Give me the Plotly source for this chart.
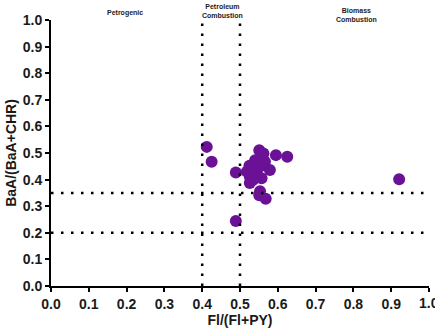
import plotly.graph_objects as go

fl_ratio = [0.412, 0.425, 0.489, 0.489, 0.551, 0.562, 0.595, 0.625, 0.540, 0.566,
            0.525, 0.553, 0.579, 0.518, 0.544, 0.526, 0.557, 0.535, 0.526, 0.553,
            0.551, 0.568, 0.921]
baa_ratio = [0.523, 0.467, 0.427, 0.244, 0.510, 0.498, 0.492, 0.486, 0.473, 0.467,
             0.452, 0.449, 0.436, 0.430, 0.424, 0.411, 0.405, 0.399, 0.387, 0.356,
             0.341, 0.328, 0.401]

x_thresholds = [0.4, 0.5]
y_thresholds = [0.35, 0.2]
tick_vals = [0.0, 0.1, 0.2, 0.3, 0.4, 0.5, 0.6, 0.7, 0.8, 0.9, 1.0]
tick_text = ["<b>%.1f</b>" % v for v in tick_vals]
region_labels = ["Petrogenic", "Petroleum<br>Combustion", "Biomass<br>Combustion"]
region_x = [0.196, 0.454, 0.807]
region_shift = [1, -1, -5]

FONT = "Liberation Sans, Arial, sans-serif"
TXT = "#1a1a1a"

fig = go.Figure()
fig.add_trace(go.Scatter(
    x=fl_ratio, y=baa_ratio, mode="markers",
    marker=dict(size=12, color="#6a1196", line=dict(width=0)),
    showlegend=False, cliponaxis=False,
))

for xv in x_thresholds:
    fig.add_shape(type="line", xref="x", yref="y", x0=xv, x1=xv, y0=0, y1=1,
                  line=dict(color="black", width=2.5, dash="2.5px,7.5px"))
for yv in y_thresholds:
    fig.add_shape(type="line", xref="x", yref="y", x0=0, x1=1, y0=yv, y1=yv,
                  line=dict(color="black", width=2.5, dash="2.5px,7.5px"))

for lab, xv, sh in zip(region_labels, region_x, region_shift):
    fig.add_annotation(x=xv, xref="x", y=1.0, yref="y", yshift=sh, text="<b>" + lab + "</b>",
                       showarrow=False, yanchor="bottom",
                       font=dict(family=FONT, size=7, color="#222"))

# last x tick label, partly cut by the page edge as in the original
fig.add_annotation(x=1.0, xref="x", y=0, yref="y", yshift=-7, text=tick_text[-1],
                   showarrow=False, yanchor="top", xanchor="center",
                   font=dict(family=FONT, size=14, color=TXT))

axis_common = dict(
    range=[0, 1], tickvals=tick_vals, ticktext=tick_text, showgrid=False, zeroline=False,
    showline=True, linecolor="black", linewidth=2, ticks="outside", ticklen=4,
    tickwidth=2, tickcolor="black",
    tickfont=dict(family=FONT, size=14, color=TXT),
)

fig.update_xaxes(**axis_common,
                 title=dict(text="<b>Fl/(Fl+PY)</b>", standoff=4,
                            font=dict(family=FONT, size=14, color=TXT)))
fig.update_yaxes(**axis_common,
                 title=dict(text="<b>BaA/(BaA+CHR)</b>", standoff=3,
                            font=dict(family=FONT, size=14, color=TXT)))

fig.update_layout(
    width=435, height=332,
    margin=dict(l=51, r=6, t=20, b=43),
    plot_bgcolor="white", paper_bgcolor="white",
)

fig.write_html("out.html")
